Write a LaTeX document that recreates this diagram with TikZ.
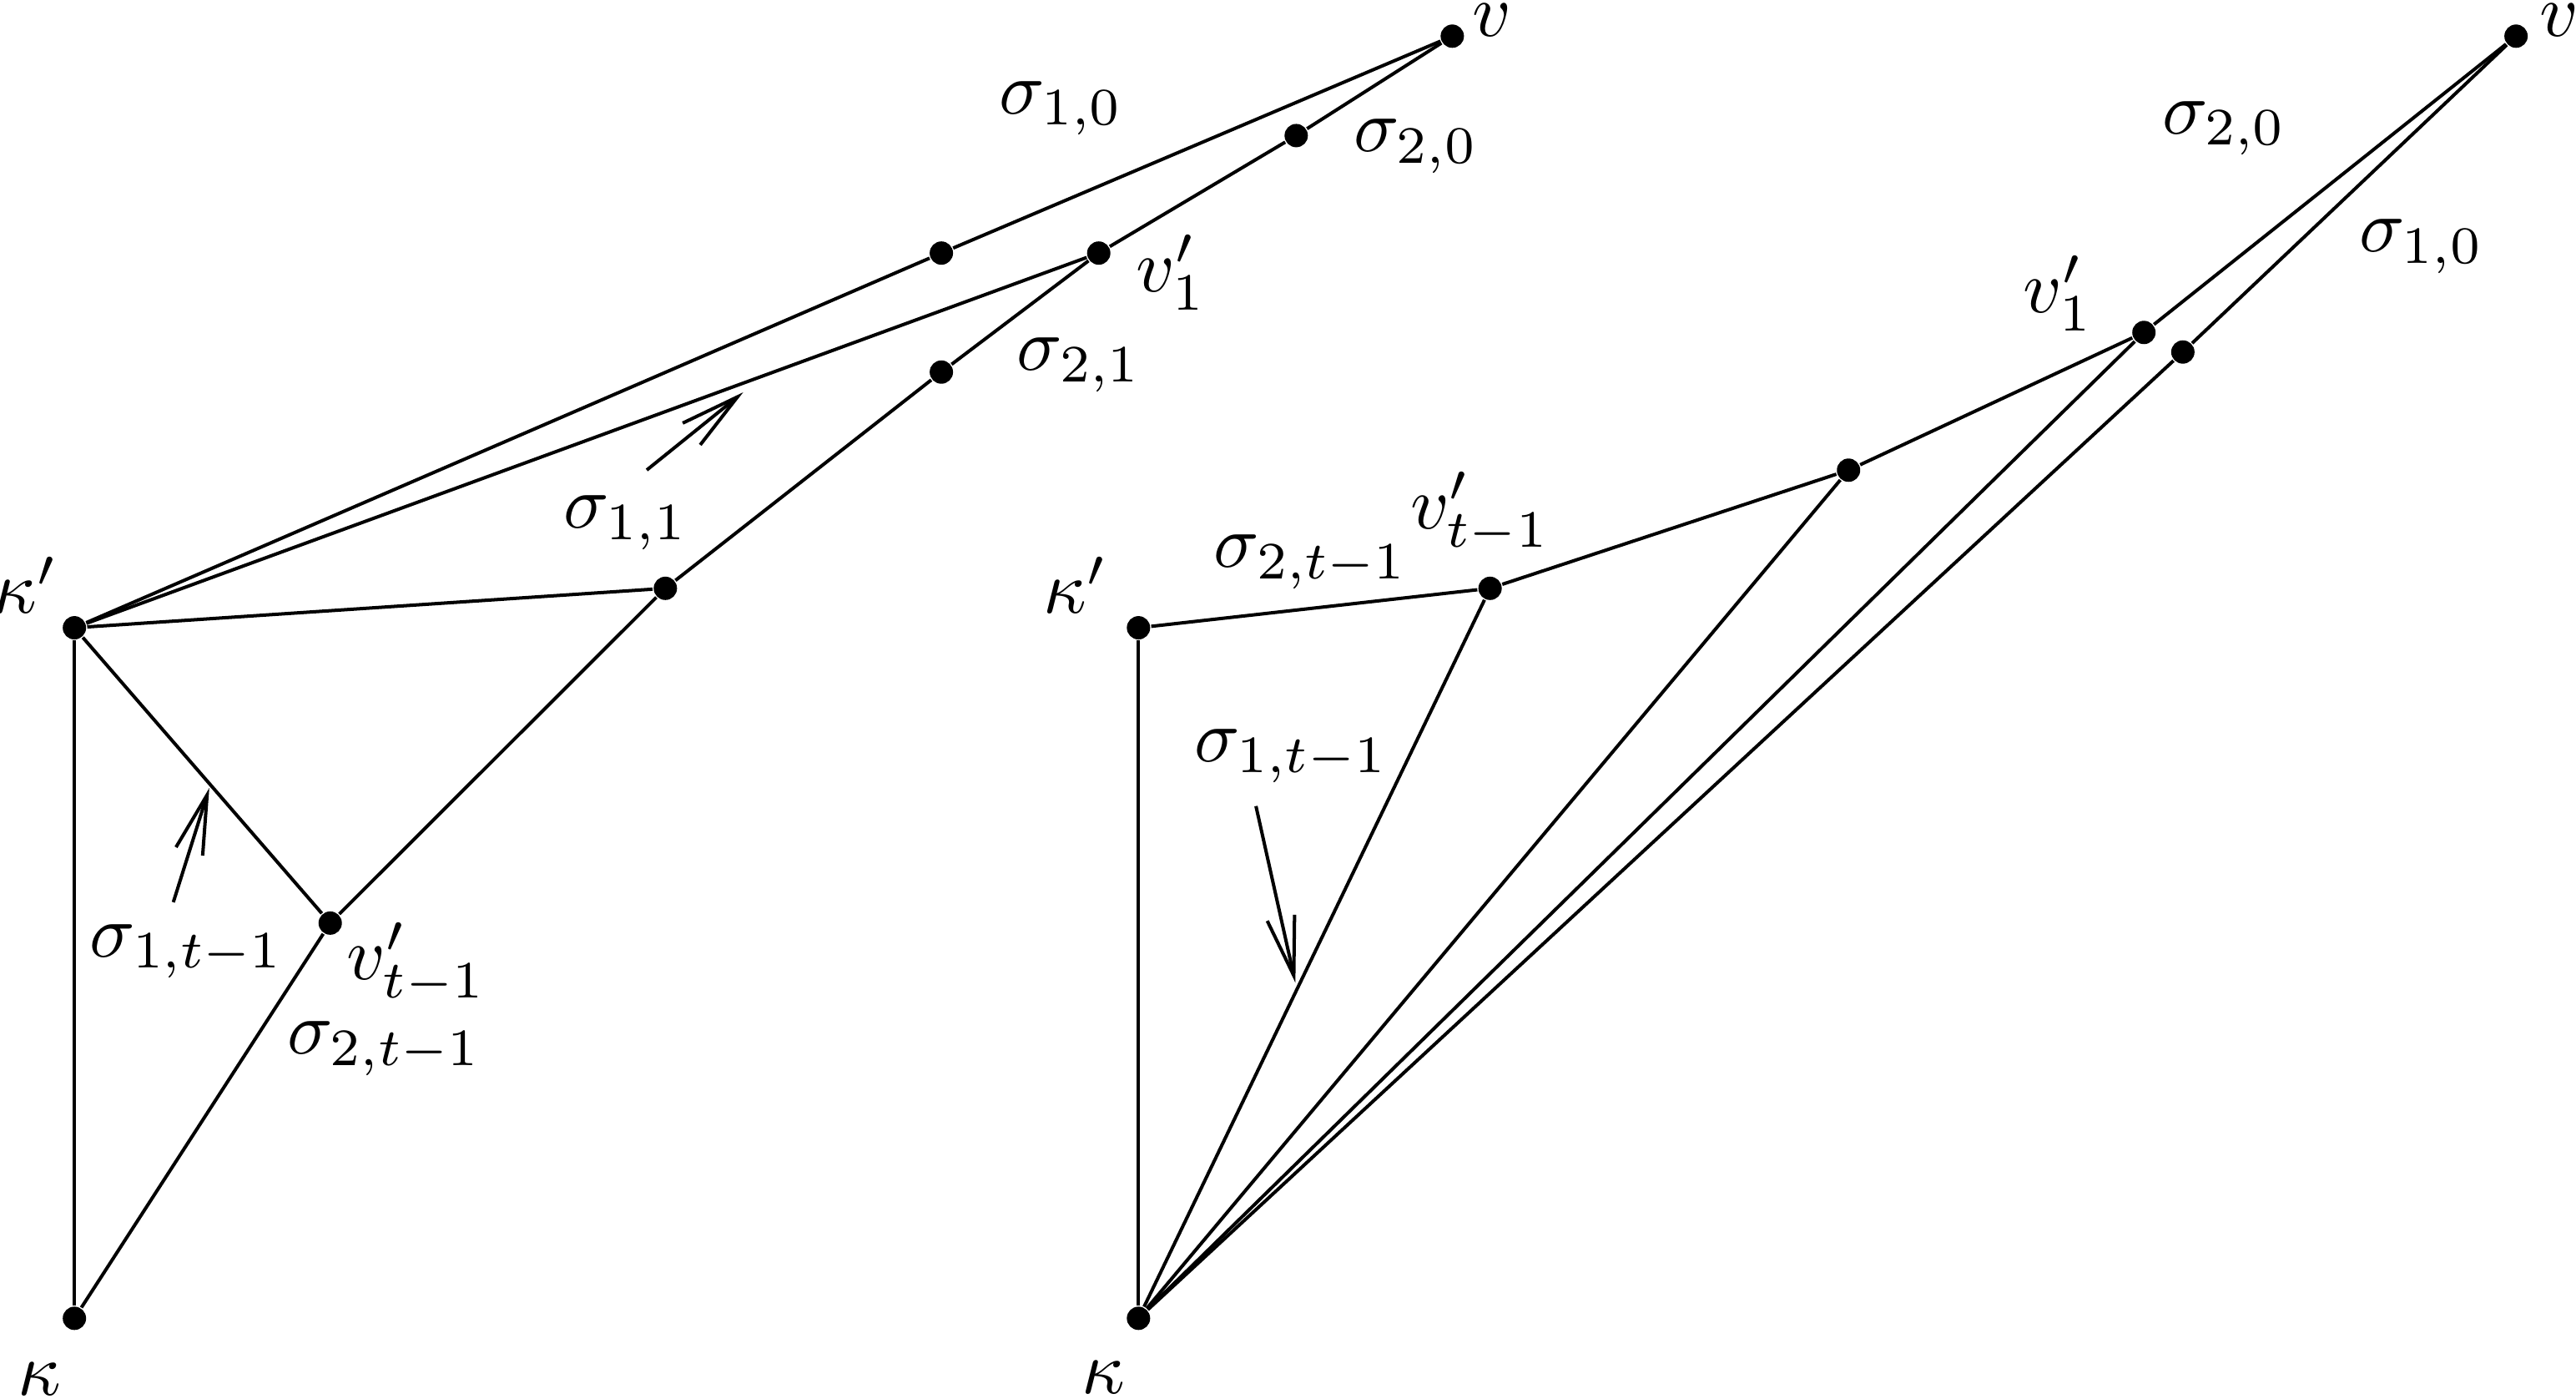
\documentclass[tikz,border=0pt]{standalone}
\usetikzlibrary{arrows.meta}
\tikzset{
  dot/.style={circle,fill=black,inner sep=0pt,minimum size=0.142cm},
  edge/.style={line width=0.58pt},
  pointer/.style={line width=0.58pt,-{Straight Barb[length=0.36cm,width=0.17cm]}},
  lbl/.style={inner sep=0pt,scale=1.3}
}
\begin{document}
\begin{tikzpicture}[x=0.01cm,y=-0.01cm]
\useasboundingbox (0,0) rectangle (1568,851);
% ---------- left diagram ----------
\node[dot] (vL)  at (884,22) {};
\node[dot] (aL)  at (573,154) {};
\node[dot] (bL)  at (789,82.5) {};
\node[dot] (v1L) at (668.8,154) {};
\node[dot] (cL)  at (573,226.4) {};
\node[dot] (dL)  at (405,358) {};
\node[dot] (kpL) at (45.3,382) {};
\node[dot] (vtL) at (201,561.7) {};
\node[dot] (kL)  at (45.3,802.2) {};
\draw[edge] (kpL) -- (kL);
\draw[edge] (kpL) -- (aL);
\draw[edge] (aL) -- (vL);
\draw[edge] (vL) -- (bL);
\draw[edge] (bL) -- (v1L);
\draw[edge] (kpL) -- (v1L);
\draw[edge] (v1L) -- (cL);
\draw[edge] (cL) -- (dL);
\draw[edge] (dL) -- (vtL);
\draw[edge] (vtL) -- (kL);
\draw[edge] (kpL) -- (dL);
\draw[edge] (kpL) -- (vtL);
\coordinate (t1L) at (393.7,286);
\coordinate (h1L) at (452.4,238.7);
\draw[pointer] (t1L) -- (h1L);
\coordinate (t2L) at (105.5,549);
\coordinate (h2L) at (127.4,479.5);
\draw[pointer] (t2L) -- (h2L);
\node[lbl] (lvL)   at (908,12)    {$v$};
\node[lbl] (ls10L) at (646,66)    {$\sigma_{1,0}$};
\node[lbl] (ls20L) at (862,89)    {$\sigma_{2,0}$};
\node[lbl] (lv1L)  at (713,166)   {$v'_1$};
\node[lbl] (ls21L) at (657,222)   {$\sigma_{2,1}$};
\node[lbl] (ls11L) at (381,318)   {$\sigma_{1,1}$};
\node[lbl] (lkpL)  at (16,356)    {$\kappa'$};
\node[lbl] (ls1tL) at (113.7,579) {$\sigma_{1,t-1}$};
\node[lbl] (lvtL)  at (253.5,586.5) {$v'_{t-1}$};
\node[lbl] (ls2tL) at (234,638)   {$\sigma_{2,t-1}$};
\node[lbl] (lkL)   at (24,839)    {$\kappa$};
% ---------- right diagram ----------
\node[dot] (vR)  at (1531.5,22) {};
\node[dot] (v1R) at (1305,202.3) {};
\node[dot] (eR)  at (1328.7,214.2) {};
\node[dot] (fR)  at (1125.2,286.1) {};
\node[dot] (vtR) at (907,358) {};
\node[dot] (kpR) at (693,382) {};
\node[dot] (kR)  at (693,802.2) {};
\draw[edge] (kpR) -- (kR);
\draw[edge] (kpR) -- (vtR);
\draw[edge] (vtR) -- (fR);
\draw[edge] (fR) -- (v1R);
\draw[edge] (v1R) -- (vR);
\draw[edge] (vR) -- (eR);
\draw[edge] (eR) -- (kR);
\draw[edge] (kR) -- (v1R);
\draw[edge] (kR) -- (fR);
\draw[edge] (kR) -- (vtR);
\coordinate (t1R) at (764.5,490.5);
\coordinate (h1R) at (788.5,598);
\draw[pointer] (t1R) -- (h1R);
\node[lbl] (lvR)   at (1558,12)   {$v$};
\node[lbl] (ls20R) at (1354,78)   {$\sigma_{2,0}$};
\node[lbl] (ls10R) at (1474,150)  {$\sigma_{1,0}$};
\node[lbl] (lv1R)  at (1253,178.5) {$v'_1$};
\node[lbl] (ls2tR) at (798,342)   {$\sigma_{2,t-1}$};
\node[lbl] (lvtR)  at (901,312)   {$v'_{t-1}$};
\node[lbl] (lkpR)  at (655,356)   {$\kappa'$};
\node[lbl] (ls1tR) at (786,460)   {$\sigma_{1,t-1}$};
\node[lbl] (lkR)   at (671.5,838) {$\kappa$};
\end{tikzpicture}
\end{document}
